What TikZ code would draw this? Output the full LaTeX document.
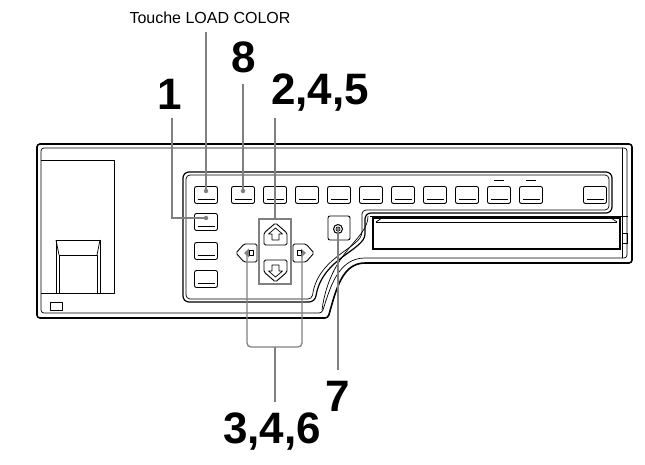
\documentclass[tikz,border=0pt]{standalone}
\usepackage{fontspec}
\setmainfont{Liberation Sans}
\begin{document}
\begin{tikzpicture}[x=1pt,y=-1pt,
  outl/.style={line width=1.6pt,line join=round},
  thin/.style={line width=0.7pt,line join=round},
  btn/.style={draw,line width=0.9pt,rounded corners=2pt,minimum width=23pt,minimum height=17pt,inner sep=0pt,
    path picture={\draw[line width=1.3pt]([xshift=3pt,yshift=4pt]path picture bounding box.south west)--([xshift=-3pt,yshift=4pt]path picture bounding box.south east);}},
  call/.style={draw=gray,line width=1.3pt},
  dot/.style={circle,fill=gray,inner sep=0pt,minimum size=4.5pt},
  big/.style={font=\fontsize{44}{44}\selectfont\bfseries,inner sep=0pt},
  small/.style={font=\fontsize{16}{16}\selectfont,inner sep=0pt}]
\useasboundingbox (0,0) rectangle (645,465);
% body
\draw[outl,rounded corners=3pt] (37,144) -- (632,144) -- (632,263) -- (368,263) .. controls (342,263) and (336,290) .. (328,318) -- (37,318) -- cycle;
\draw[thin,rounded corners=3pt] (41,148) -- (627,148) -- (627,258) -- (368,258) .. controls (338,258) and (330,288) .. (322,313) -- (41,313) -- cycle;
\draw[thin] (622,148) -- (622,233) (622,243) -- (622,258);
\draw[thin] (622,233) rectangle (627,243);
% left area
\draw[thin] (41,160) -- (114,160) -- (114,293) -- (41,293);
\draw[thin] (56,293) -- (56,240) -- (100,240) -- (100,293);
\draw[thin] (59,293) -- (59,255) -- (97,255) -- (97,293);
\draw[thin] (56,240) -- (59,255) (100,240) -- (97,255);
\draw[thin] (50,302) rectangle (62,310);
% panel
\draw[line width=1.2pt,rounded corners=6pt] (183,172) -- (612,172) -- (612,213) -- (365,213) -- (365,228) .. controls (365,250) and (322,258) .. (315,302) -- (183,302) -- cycle;
\draw[thin,rounded corners=4pt] (186,175) -- (609,175) -- (609,210) -- (362,210) -- (362,228) .. controls (362,248) and (318,256) .. (312,299) -- (186,299) -- cycle;
\draw[thin,rounded corners=5pt] (370,216) -- (628,216);
\draw[thin] (368,216) .. controls (368,240) and (330,250) .. (322,310);
% top row buttons
\foreach \i/\x in {1/206,2/243,3/275,4/307,5/339,6/371,7/403,8/435,9/467,10/499,11/531,12/595}
  \node[btn] (t\i) at (\x,195) {};
\draw[thin] (494,180) -- (504,180) (526,180) -- (536,180);
% left column
\node[btn] (l1) at (206,222) {};
\node[btn] (l2) at (206,251) {};
\node[btn] (l3) at (206,279) {};
% arrow keys
\draw[line width=0.9pt,rounded corners=1.5pt] (264,245) -- (264,233) -- (275.5,223) -- (287,233) -- (287,245) -- cycle;
\draw[thin] (272,240) -- (272,234) -- (268.5,234) -- (275.5,228) -- (282.5,234) -- (279,234) -- (279,240) -- cycle;
\draw[line width=0.9pt,rounded corners=1.5pt] (264,260) -- (287,260) -- (287,272) -- (275.5,282) -- (264,272) -- cycle;
\draw[thin] (272,265) -- (279,265) -- (279,271) -- (282.5,271) -- (275.5,277) -- (268.5,271) -- (272,271) -- cycle;
\draw[line width=0.9pt,rounded corners=1.5pt] (257,244) -- (257,262) -- (244,262) -- (236,253) -- (244,244) -- cycle;
\fill[gray] (244,253) -- (249,248.5) -- (249,257.5) -- cycle;
\draw[thin] (249,250.5) rectangle (253,255.5);
\draw[line width=0.9pt,rounded corners=1.5pt] (293,244) -- (306,244) -- (314,253) -- (306,262) -- (293,262) -- cycle;
\fill[gray] (306,253) -- (301,248.5) -- (301,257.5) -- cycle;
\draw[thin] (297,250.5) rectangle (301,255.5);
\node[draw=gray,line width=1.3pt,minimum width=32pt,minimum height=65pt,inner sep=0pt] (ud) at (275,251.5) {};
% round button
\draw[line width=0.9pt,rounded corners=2pt] (328,216) rectangle (350,240);
\draw[line width=1pt] (338,229) circle (4.5);
\draw[thin] (338,229) circle (2);
% slot
\draw[line width=1.2pt] (373,218) rectangle (620,249);
\draw[thin] (376,222) -- (617,222);
\draw[thin] (376,222) -- (382,218) (617,222) -- (611,218);
% labels
\node[small] (lc) at (210,18) {Touche LOAD COLOR};
\node[big] (n8) at (244,57) {8};
\node[big] (n1) at (170,94) {1};
\node[big] (n245) at (320,93) {2,4,5};
\node[big] (n7) at (338,396) {7};
\node[big] (n346) at (272,432) {3,4,6};
% callouts
\node[dot] (d1) at (206,191) {};
\node[dot] (d2) at (243,191) {};
\node[dot] (d3) at (206,218) {};
\fill[gray] (338,229) circle (1.3);
\coordinate (c7) at (338,229);
\coordinate (cl) at (247,253);
\coordinate (cr) at (302,253);
\draw[call] (206,32) -- (d1.center);
\draw[call] (243,84) -- (d2.center);
\draw[call] (172,118) -- (172,218) -- (d3.center);
\draw[call] (275,118) -- (ud.north);
\draw[call,rounded corners=4pt] (cl) -- (247,347) -- (302,347) -- (cr);
\draw[call] (275,347) -- (275,402);
\draw[call] (c7) -- (338,370);
\end{tikzpicture}
\end{document}
